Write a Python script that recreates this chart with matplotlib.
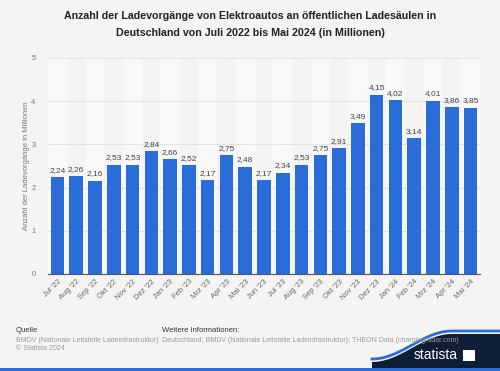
import matplotlib.pyplot as plt
import numpy as np
from matplotlib.patches import Polygon

plt.rcParams['font.family'] = ['Liberation Sans', 'DejaVu Sans']

months = ["Jul '22", "Aug '22", "Sep '22", "Okt '22", "Nov '22", "Dez '22",
          "Jan '23", "Feb '23", "Mrz '23", "Apr '23", "Mai '23", "Jun '23",
          "Jul '23", "Aug '23", "Sep '23", "Okt '23", "Nov '23", "Dez '23",
          "Jan '24", "Feb '24", "Mrz '24", "Apr '24", "Mai '24"]
values = [2.24, 2.26, 2.16, 2.53, 2.53, 2.84, 2.66, 2.52, 2.17, 2.75, 2.48, 2.17,
          2.34, 2.53, 2.75, 2.91, 3.49, 4.15, 4.02, 3.14, 4.01, 3.86, 3.85]
yticks = [0, 1, 2, 3, 4, 5]

bg = '#f4f4f4'
bar_color = '#2a6dd8'

fig = plt.figure(figsize=(5, 3.71), dpi=100, facecolor=bg)
ax = fig.add_axes([48 / 500, 1 - 274 / 371, 432 / 500, 216 / 371])
ax.set_facecolor(bg)

x = np.arange(len(values))
# light alternating column bands
for i in x:
    if i % 2 == 0:
        ax.axvspan(i - 0.5, i + 0.5, color='#f9f9f9', zorder=0, lw=0)

ax.set_yticks(yticks)
ax.grid(axis='y', color='#e0e0e0', lw=0.6, zorder=1)
bars = ax.bar(x, values, width=0.72, color=bar_color, zorder=2)
for xi, v in zip(x, values):
    ax.text(xi, v + 0.08, f"{v:.2f}".replace('.', ','), ha='center', va='bottom',
            fontsize=6, color='#444444', zorder=3)

ax.set_xlim(-0.5, len(values) - 0.5)
ax.set_ylim(0, 5)
ax.set_xticks(x)
ax.set_xticklabels(months, rotation=45, ha='right', rotation_mode='anchor',
                   fontsize=5.5, color='#666666')
ax.tick_params(axis='y', labelsize=5.5, labelcolor='#777777', length=0, pad=9)
ax.tick_params(axis='x', length=0, pad=3)
for s in ['top', 'right', 'left']:
    ax.spines[s].set_visible(False)
ax.spines['bottom'].set_color('#555555')
ax.spines['bottom'].set_linewidth(0.8)
ax.set_ylabel('Anzahl der Ladevorgänge in Millionen', fontsize=5.5, color='#777777')
ax.yaxis.set_label_coords(-(48 - 30) / 432, 0.5)

fig.text(0.5, 1 - 16 / 371, 'Anzahl der Ladevorgänge von Elektroautos an öffentlichen Ladesäulen in',
         ha='center', va='center', fontsize=7.7, fontweight='bold', color='#222222')
fig.text(0.5, 1 - 33 / 371, 'Deutschland von Juli 2022 bis Mai 2024 (in Millionen)',
         ha='center', va='center', fontsize=7.7, fontweight='bold', color='#222222')

fig.text(16 / 500, 1 - 331 / 371, 'Quelle', fontsize=5.5, color='#333333', va='center')
fig.text(16 / 500, 1 - 340 / 371, 'BMDV (Nationale Leitstelle Ladeinfrastruktur)',
         fontsize=5, color='#999999', va='center')
fig.text(16 / 500, 1 - 348 / 371, '© Statista 2024', fontsize=5, color='#999999', va='center')
fig.text(162 / 500, 1 - 331 / 371, 'Weitere Informationen:', fontsize=5.5, color='#333333', va='center')
fig.text(162 / 500, 1 - 340 / 371,
         'Deutschland; BMDV (Nationale Leitstelle Ladeinfrastruktur); THEON Data (chargingradar.com)',
         fontsize=5, color='#999999', va='center')

# statista footer shape
t = np.linspace(0, 1, 40)
cx = 372 + t * 128
cy = 362 - 28 * (0.5 - 0.5 * np.cos(np.pi * np.clip(t * 1.6, 0, 1)))
pts = [(px / 500, 1 - py / 371) for px, py in zip(cx, cy)] + [(1, 0), (372 / 500, 0)]
fig.patches.append(Polygon(pts, closed=True, transform=fig.transFigure,
                           facecolor='#0f1d35', edgecolor='none'))
blue = [(px / 500, 1 - (py - 3) / 371) for px, py in zip(cx, cy)]
fig.lines.append(plt.Line2D([p[0] for p in blue], [p[1] for p in blue], transform=fig.transFigure,
                            color=bar_color, lw=2))
fig.patches.append(plt.Rectangle((0, 0), 1, 3 / 371, transform=fig.transFigure,
                                 facecolor=bar_color, edgecolor='none'))
fig.text(458 / 500, 1 - 355 / 371, 'statista', fontsize=10, color='white',
         ha='right', va='center')
fig.patches.append(plt.Rectangle((463 / 500, 1 - 361 / 371), 12 / 500, 11 / 371,
                                 transform=fig.transFigure, facecolor='white', edgecolor='none'))

fig.savefig('out.png', dpi=100, facecolor=bg)
